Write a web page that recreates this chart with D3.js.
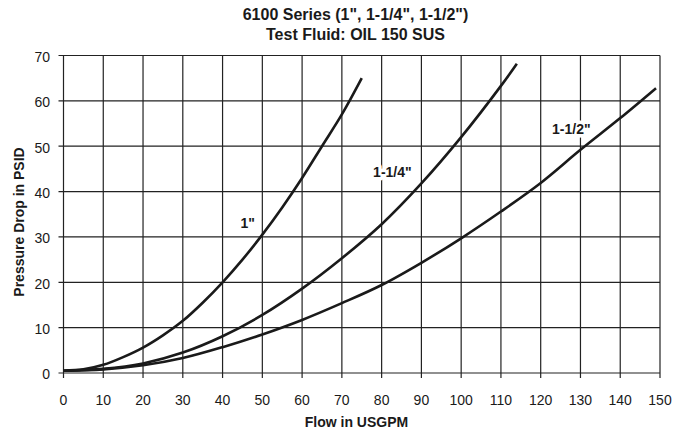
<!DOCTYPE html>
<html>
<head>
<meta charset="utf-8">
<script src="https://cdn.jsdelivr.net/npm/d3@7"></script>
<style>
  body { margin: 0; background: #fff; }
  text { font-family: "Liberation Sans", Arial, Helvetica, sans-serif; fill: #1a1a1a; }
</style>
</head>
<body>
<div id="chart"></div>
<script>
// flow (USGPM) vs pressure drop (PSID)
const flow1 = [0, 5, 10, 15, 20, 25, 30, 35, 40, 45, 50, 55, 60, 65, 70, 75];
const psid1 = [0.5, 0.8, 1.8, 3.5, 5.6, 8.3, 11.5, 15.5, 20, 25, 30.5, 36.5, 43, 50, 57, 65];

const flow114 = [0, 10, 20, 30, 40, 50, 60, 70, 80, 90, 100, 110, 114];
const psid114 = [0.5, 0.9, 2.1, 4.5, 8.1, 12.8, 18.6, 25.3, 32.8, 41.8, 52, 63.3, 68.2];

const flow112 = [0, 10, 20, 30, 40, 50, 60, 70, 80, 90, 100, 110, 120, 130, 140, 149];
const psid112 = [0.5, 0.8, 1.7, 3.3, 5.7, 8.5, 11.7, 15.4, 19.4, 24.3, 29.7, 35.6, 41.9, 49.2, 56.2, 62.8];

const seriesNames = ['1"', '1-1/4"', '1-1/2"'];
const labelAt = [[46.3, 33], [82.7, 44.2], [127.7, 53.8]];

const xTicks = d3.range(0, 151, 10);
const yTicks = d3.range(0, 71, 10);

const width = 685, height = 431;
const margin = { left: 63.5, right: 25, top: 55.5, bottom: 58 };

const svg = d3.select("#chart").append("svg")
  .attr("width", width)
  .attr("height", height);

const x = d3.scaleLinear().domain([0, 150]).range([margin.left, width - margin.right]);
const y = d3.scaleLinear().domain([0, 70]).range([height - margin.bottom, margin.top]);

// grid
svg.append("g")
  .selectAll("line")
  .data(xTicks)
  .join("line")
  .attr("x1", d => x(d)).attr("x2", d => x(d))
  .attr("y1", y(70)).attr("y2", y(0) + 5)
  .attr("stroke", "#222").attr("stroke-width", 1.2);

svg.append("g")
  .selectAll("line")
  .data(yTicks)
  .join("line")
  .attr("x1", x(0) - 5).attr("x2", x(150))
  .attr("y1", d => y(d)).attr("y2", d => y(d))
  .attr("stroke", "#222").attr("stroke-width", 1.2);

// tick labels
svg.append("g")
  .selectAll("text")
  .data(xTicks)
  .join("text")
  .attr("x", d => x(d))
  .attr("y", y(0) + 32)
  .attr("text-anchor", "middle")
  .attr("font-size", 14)
  .text(d => d);

svg.append("g")
  .selectAll("text")
  .data(yTicks)
  .join("text")
  .attr("x", x(0) - 13.5)
  .attr("y", d => y(d))
  .attr("dy", "0.45em")
  .attr("text-anchor", "end")
  .attr("font-size", 14)
  .text(d => d);

// curves
const line = d3.line()
  .x(d => x(d[0]))
  .y(d => y(d[1]))
  .curve(d3.curveCatmullRom.alpha(0.5));

const series = [
  d3.zip(flow1, psid1),
  d3.zip(flow114, psid114),
  d3.zip(flow112, psid112)
];

svg.append("g")
  .selectAll("path")
  .data(series)
  .join("path")
  .attr("d", line)
  .attr("fill", "none")
  .attr("stroke", "#1a1a1a")
  .attr("stroke-width", 2.6);

// curve labels with white background
const lbl = svg.append("g")
  .selectAll("g")
  .data(seriesNames)
  .join("g")
  .attr("transform", (d, i) => `translate(${x(labelAt[i][0])},${y(labelAt[i][1])})`);

lbl.append("text")
  .attr("text-anchor", "middle")
  .attr("dy", "0.35em")
  .attr("font-size", 14)
  .attr("font-weight", "bold")
  .attr("stroke", "#fff")
  .attr("stroke-width", 7)
  .attr("stroke-linejoin", "round")
  .style("fill", "#fff")
  .text(d => d);

lbl.append("text")
  .attr("text-anchor", "middle")
  .attr("dy", "0.35em")
  .attr("font-size", 14)
  .attr("font-weight", "bold")
  .text(d => d);

// titles
svg.append("text")
  .attr("x", 355.5).attr("y", 20)
  .attr("text-anchor", "middle")
  .attr("font-size", 16)
  .attr("font-weight", "bold")
  .text('6100 Series (1", 1-1/4", 1-1/2")');

svg.append("text")
  .attr("x", 355.5).attr("y", 40)
  .attr("text-anchor", "middle")
  .attr("font-size", 16)
  .attr("font-weight", "bold")
  .text("Test Fluid: OIL 150 SUS");

svg.append("text")
  .attr("x", 356.5).attr("y", 427)
  .attr("text-anchor", "middle")
  .attr("font-size", 14)
  .attr("font-weight", "bold")
  .text("Flow in USGPM");

svg.append("text")
  .attr("transform", "translate(24,222) rotate(-90)")
  .attr("text-anchor", "middle")
  .attr("font-size", 14)
  .attr("font-weight", "bold")
  .text("Pressure Drop in PSID");
</script>
</body>
</html>
